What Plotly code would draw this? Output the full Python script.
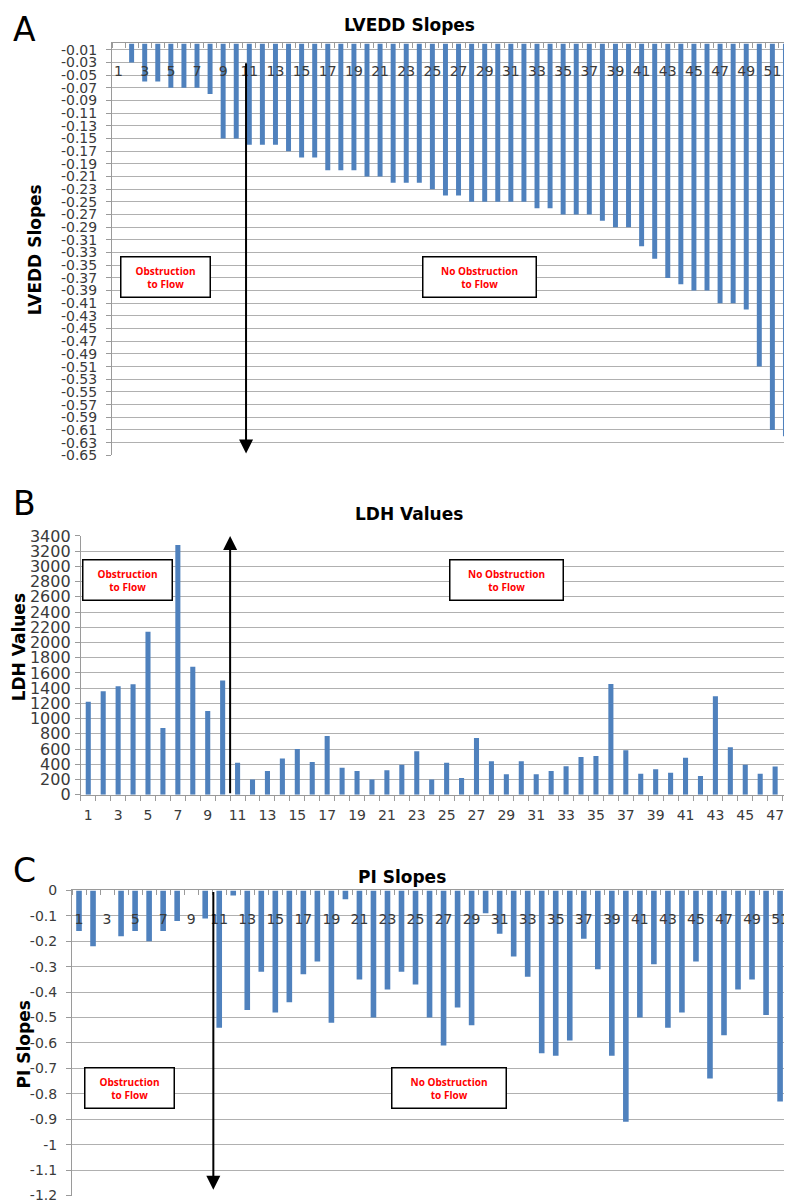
import plotly.graph_objects as go

# figure pixels -> picture pixels, measured from earlier renders:
# picture_x = fig_x + 8 ; picture_y = 16.8 + 0.984 * fig_y
OX = 8
OY, SY = 16.8, 0.984
FW, FH = 784, 1207

# ---------------- data ----------------
patients_a = list(range(1, 53))
lvedd_slopes = [0, -0.03, -0.06, -0.06, -0.07, -0.07, -0.07, -0.08, -0.15, -0.15,
                -0.16, -0.16, -0.16, -0.17, -0.18, -0.18, -0.20, -0.20, -0.20, -0.21,
                -0.21, -0.22, -0.22, -0.22, -0.23, -0.24, -0.24, -0.25, -0.25, -0.25,
                -0.25, -0.25, -0.26, -0.26, -0.27, -0.27, -0.27, -0.28, -0.29, -0.29,
                -0.32, -0.34, -0.37, -0.38, -0.39, -0.39, -0.41, -0.41, -0.42, -0.51,
                -0.61, -0.62]

patients_b = list(range(1, 49))
ldh_values = [1220, 1360, 1425, 1450, 2140, 875, 3280, 1680, 1100, 1500,
              420, 200, 310, 475, 600, 430, 770, 355, 310, 200,
              320, 395, 570, 200, 420, 220, 745, 440, 270, 440,
              270, 310, 375, 495, 510, 1455, 585, 275, 335, 290,
              485, 245, 1295, 625, 395, 275, 370, 310]

patients_c = list(range(1, 52))
pi_slopes = [-0.16, -0.22, 0, -0.18, -0.16, -0.20, -0.16, -0.12, 0, -0.11,
             -0.54, -0.02, -0.47, -0.32, -0.48, -0.44, -0.33, -0.28, -0.52, -0.035,
             -0.35, -0.50, -0.39, -0.32, -0.37, -0.50, -0.61, -0.46, -0.53, -0.09,
             -0.17, -0.26, -0.34, -0.64, -0.65, -0.59, -0.19, -0.31, -0.65, -0.91,
             -0.50, -0.29, -0.54, -0.48, -0.28, -0.74, -0.57, -0.39, -0.35, -0.49,
             -0.83]

# tick labels
a_xticks = [1, 3, 5, 7, 9, 11, 13, 15, 17, 19, 21, 23, 25, 27, 29, 31, 33, 35, 37, 39,
            41, 43, 45, 47, 49, 51]
a_yticktext = ["-0.01", "-0.03", "-0.05", "-0.07", "-0.09", "-0.11", "-0.13", "-0.15",
               "-0.17", "-0.19", "-0.21", "-0.23", "-0.25", "-0.27", "-0.29", "-0.31",
               "-0.33", "-0.35", "-0.37", "-0.39", "-0.41", "-0.43", "-0.45", "-0.47",
               "-0.49", "-0.51", "-0.53", "-0.55", "-0.57", "-0.59", "-0.61", "-0.63",
               "-0.65"]
a_ytickvals = [float(t) for t in a_yticktext]

b_xticks = [1, 3, 5, 7, 9, 11, 13, 15, 17, 19, 21, 23, 25, 27, 29, 31, 33, 35, 37, 39,
            41, 43, 45, 47]
b_ytickvals = [0, 200, 400, 600, 800, 1000, 1200, 1400, 1600, 1800, 2000, 2200, 2400,
               2600, 2800, 3000, 3200, 3400]

c_xticks = a_xticks
c_yticktext = ["0", "-0.1", "-0.2", "-0.3", "-0.4", "-0.5", "-0.6", "-0.7", "-0.8",
               "-0.9", "-1", "-1.1", "-1.2"]
c_ytickvals = [float(t) for t in c_yticktext]

# ---------------- style ----------------
BAR = "#4F81BD"
GRID = "#b0b0b0"
AXIS = "#9a9a9a"
TXT = "#3a3a3a"
FONT = "DejaVu Sans"


def px_x(p):
    return (p - OX) / FW


def px_y(p):
    return 1 - ((p - OY) / SY) / FH


fig = go.Figure()
fig.add_trace(go.Bar(x=patients_a, y=lvedd_slopes, xaxis="x", yaxis="y",
                     marker=dict(color=BAR, line=dict(width=0)), width=0.38))
fig.add_trace(go.Bar(x=patients_b, y=ldh_values, xaxis="x2", yaxis="y2",
                     marker=dict(color=BAR, line=dict(width=0)), width=0.34))
fig.add_trace(go.Bar(x=patients_c, y=pi_slopes, xaxis="x3", yaxis="y3",
                     marker=dict(color=BAR, line=dict(width=0)), width=0.4))
# empty helper traces so that the free label axes get drawn
fig.add_trace(go.Scatter(x=a_xticks, y=[None] * len(a_xticks), xaxis="x4", yaxis="y",
                         mode="markers", hoverinfo="skip", showlegend=False))
fig.add_trace(go.Scatter(x=c_xticks, y=[None] * len(c_xticks), xaxis="x5", yaxis="y3",
                         mode="markers", hoverinfo="skip", showlegend=False))


def cat_axis(domain, rng, anchor, side, tickvals, show_labels, ticks_dir):
    return dict(domain=domain, range=rng, anchor=anchor, side=side,
                tickmode="array", tickvals=tickvals, ticks="",
                showticklabels=show_labels, ticklabelstandoff=7,
                tickfont=dict(family=FONT, size=14, color=TXT),
                showline=True, linecolor=AXIS, linewidth=1,
                showgrid=False, zeroline=False,
                minor=dict(tick0=0.5, dtick=1, ticks=ticks_dir, ticklen=5,
                           tickcolor=AXIS, tickwidth=1, showgrid=False))


def label_axis(base, domain, rng, pos, tickvals):
    # free axis that only carries the category labels printed inside the plot
    return dict(overlaying=base, domain=domain, range=rng, anchor="free",
                position=pos, side="bottom", tickmode="array", tickvals=tickvals,
                ticks="", showline=False, showgrid=False, zeroline=False,
                tickfont=dict(family=FONT, size=14, color=TXT))


def val_axis(domain, rng, anchor, tickvals, ticktext, fsize, standoff):
    d = dict(domain=domain, range=rng, anchor=anchor,
             tickmode="array", tickvals=tickvals,
             ticks="outside", ticklen=5, tickcolor=AXIS,
             ticklabelstandoff=standoff,
             tickfont=dict(family=FONT, size=fsize, color=TXT),
             showline=True, linecolor=AXIS, linewidth=1,
             showgrid=True, gridcolor=GRID, gridwidth=1, zeroline=False)
    if ticktext is not None:
        d["ticktext"] = ticktext
    return d


dom_xa = [px_x(112), 1]
dom_xb = [px_x(80.8), 1]
dom_xc = [px_x(72), 1]
rng_a = [0.5, 52.5]
rng_b = [0.5, 48.13]
rng_c = [0.5, 51.85]

fig.update_layout(
    width=FW, height=FH, autosize=False,
    margin=dict(l=0, r=0, t=0, b=0),
    paper_bgcolor="white", plot_bgcolor="white",
    showlegend=False, bargap=0.6,
    xaxis=cat_axis(dom_xa, rng_a, "y", "top", a_xticks, False, "inside"),
    yaxis=val_axis([px_y(455), px_y(43.2)], [-0.65, 0], "x", a_ytickvals, a_yticktext, 14, 6),
    xaxis2=cat_axis(dom_xb, rng_b, "y2", "bottom", b_xticks, True, "outside"),
    yaxis2=val_axis([px_y(794.3), px_y(535.6)], [0, 3400], "x2", b_ytickvals, None, 16, 1),
    xaxis3=cat_axis(dom_xc, rng_c, "y3", "top", c_xticks, False, "inside"),
    yaxis3=val_axis([px_y(1195), px_y(890)], [-1.2, 0], "x3", c_ytickvals, c_yticktext, 14, 6),
    xaxis4=label_axis("x", dom_xa, rng_a, px_y(61), a_xticks),
    xaxis5=label_axis("x3", dom_xc, rng_c, px_y(909), c_xticks),
)

ann = []
# panel letters
for letter, yc in (("A", 29), ("B", 503.5), ("C", 870.5)):
    ann.append(dict(text=letter, xref="paper", yref="paper", x=px_x(11), y=px_y(yc),
                    xanchor="left", yanchor="middle", showarrow=False,
                    font=dict(family=FONT, size=33, color="black")))
# titles
for title, xc, yc in (("LVEDD Slopes", 409, 25), ("LDH Values", 409, 513.5),
                      ("PI Slopes", 402, 876.5)):
    ann.append(dict(text="<b>" + title + "</b>", xref="paper", yref="paper",
                    x=px_x(xc), y=px_y(yc), xanchor="center", yanchor="middle",
                    showarrow=False, font=dict(family=FONT, size=17, color="black")))
# y axis titles
for title, xc, yc in (("LVEDD Slopes", 35, 250), ("LDH Values", 19, 647),
                      ("PI Slopes", 24, 1044)):
    ann.append(dict(text="<b>" + title + "</b>", xref="paper", yref="paper",
                    x=px_x(xc), y=px_y(yc), xanchor="center", yanchor="middle",
                    textangle=-90, showarrow=False,
                    font=dict(family=FONT, size=17, color="black")))

# boxes
BOXFONT = dict(family="Open Sans", size=10, color="#ff0000")
boxes = [
    ("x", "y", 4.61, -0.369, 86, "Obstruction<br>to Flow"),
    ("x", "y", 28.57, -0.369, 110, "No Obstruction<br>to Flow"),
    ("x2", "y2", 3.61, 2825, 86, "Obstruction<br>to Flow"),
    ("x2", "y2", 28.99, 2825, 110, "No Obstruction<br>to Flow"),
    ("x3", "y3", 4.62, -0.778, 86, "Obstruction<br>to Flow"),
    ("x3", "y3", 27.37, -0.778, 111, "No Obstruction<br>to Flow"),
]
for xr, yr, xc, yc, wd, txt in boxes:
    ann.append(dict(text="<b>" + txt + "</b>", xref=xr, yref=yr, x=xc, y=yc,
                    xanchor="center", yanchor="middle", showarrow=False,
                    width=wd, height=37, align="center",
                    bordercolor="black", borderwidth=1.5, borderpad=1,
                    bgcolor="white", font=BOXFONT))

# arrows
arrows = [
    ("x", "y", 10.75, -0.029, -0.647),
    ("x2", "y2", 10.5, 0, 3400),
    ("x3", "y3", 10.58, 0, -1.177),
]
for xr, yr, xc, y0, y1 in arrows:
    ann.append(dict(text="", xref=xr, yref=yr, axref=xr, ayref=yr,
                    x=xc, y=y1, ax=xc, ay=y0, showarrow=True,
                    arrowhead=2, arrowsize=1.4, arrowwidth=2, arrowcolor="black",
                    standoff=0, startstandoff=0))

fig.update_layout(annotations=ann)
fig.write_html("out.html")
